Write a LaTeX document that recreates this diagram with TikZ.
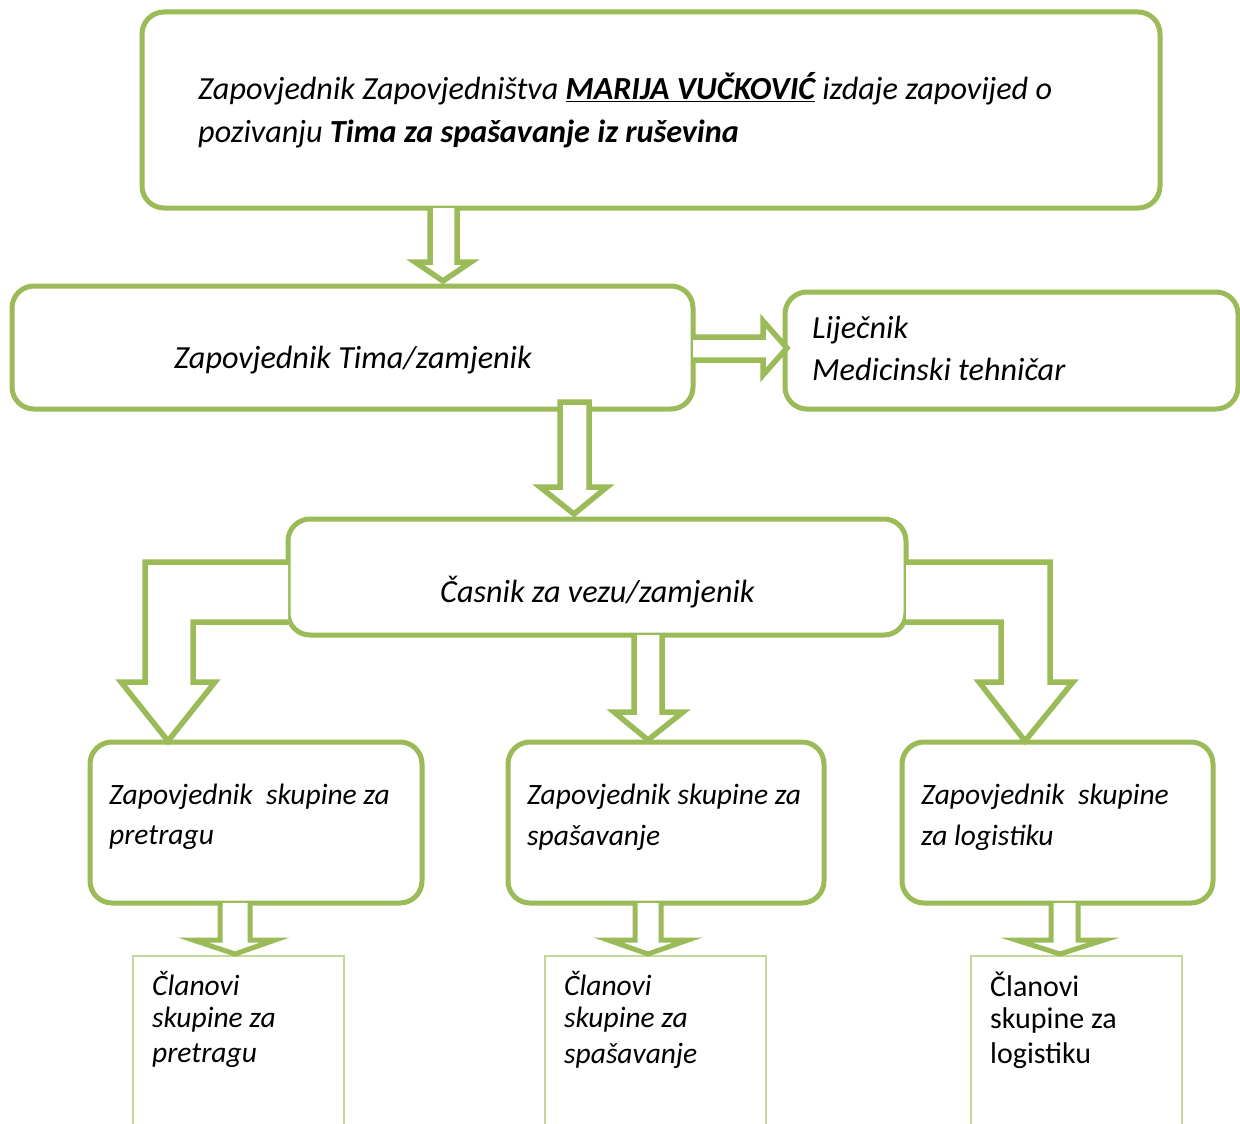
\documentclass[tikz,border=0pt]{standalone}
\usepackage{fontspec}
\setmainfont{Carlito}
\definecolor{grn}{HTML}{9BBB59}
\definecolor{lgrn}{HTML}{C3D69B}
\begin{document}
\begin{tikzpicture}[x=1pt,y=-1pt,
  box/.style={draw=grn, line width=5pt, rounded corners=22pt, fill=white, inner sep=0pt},
  thinbox/.style={draw=lgrn, line width=1.6pt, inner sep=0pt},
  blockarrow/.style={draw=grn, line width=5.5pt, fill=white, line join=miter},
  smallarrow/.style={draw=grn, line width=5pt, fill=white, line join=miter},
  txt/.style={inner sep=0pt, anchor=west, font=\fontsize{32.2}{38}\selectfont\itshape},
  txts/.style={inner sep=0pt, anchor=west, font=\fontsize{29.5}{35}\selectfont\itshape},
  txtup/.style={inner sep=0pt, anchor=west, font=\fontsize{30}{35}\selectfont}]
\useasboundingbox (0,0) rectangle (1240,1124);
\clip (0,0) rectangle (1240,1124);
\fill[white] (0,0) rectangle (1240,1124);

% boxes
\node[box, minimum width=1018pt, minimum height=196pt] (top) at (651,110) {};
\node[box, minimum width=681pt, minimum height=123pt] (team) at (352.5,347.5) {};
\node[box, minimum width=453pt, minimum height=117pt] (med) at (1011.5,350.5) {};
\node[box, minimum width=618pt, minimum height=116pt] (liaison) at (597,577) {};
\node[box, minimum width=332pt, minimum height=161pt] (search) at (256,822.5) {};
\node[box, minimum width=316pt, minimum height=161pt] (rescue) at (666,822.5) {};
\node[box, minimum width=311pt, minimum height=161pt] (logist) at (1057.5,822.5) {};
\node[thinbox, minimum width=211pt, minimum height=200pt, anchor=north west] (msearch) at (132,955) {};
\node[thinbox, minimum width=221pt, minimum height=200pt, anchor=north west] (mrescue) at (544,955) {};
\node[thinbox, minimum width=211pt, minimum height=200pt, anchor=north west] (mlogist) at (970,955) {};

% block arrows
\draw[blockarrow] (430,208) -- (430,262) -- (415,262) -- (443,281) -- (471,262) -- (457,262) -- (457,208);
\draw[blockarrow] (693,337) -- (763,337) -- (763,321) -- (787,348) -- (763,375) -- (763,360) -- (693,360);
\draw[blockarrow] (560,402) -- (560,487) -- (540,487) -- (574,514) -- (607,487) -- (589,487) -- (589,402) -- cycle;
\draw[blockarrow] (288,562) -- (145,562) -- (145,682) -- (121,682) -- (168,741) -- (215,682) -- (193,682) -- (193,622) -- (288,622);
\draw[blockarrow] (906,562) -- (1050,562) -- (1050,682) -- (1073,682) -- (1025,741) -- (979,682) -- (1001,682) -- (1001,622) -- (906,622);
\draw[blockarrow] (634,635) -- (634,712) -- (614,712) -- (648,740) -- (683,712) -- (662,712) -- (662,635);

\draw[smallarrow] (220,903) -- (220,940) -- (193,940) -- (235,954) -- (275,940) -- (250,940) -- (250,903);
\draw[smallarrow] (635,903) -- (635,940) -- (608,940) -- (648,954) -- (688,940) -- (661,940) -- (661,903);
\draw[smallarrow] (1051,903) -- (1051,940) -- (1016,940) -- (1060,954) -- (1104,940) -- (1078,940) -- (1078,903);

% texts
\node[txt] (t1a) at (198,89) {Zapovjednik Zapovjedništva \textbf{\underline{MARIJA VUČKOVIĆ}} izdaje zapovijed o};
\node[txt] (t1b) at (198,134) {pozivanju \textbf{Tima za spašavanje iz ruševina}};
\node[txt] (t2) at (174,360) {Zapovjednik Tima/zamjenik};
\node[txt] (t3a) at (812,330) {Liječnik};
\node[txt] (t3b) at (812,369) {Medicinski tehničar};
\node[txt] (t4) at (440,592) {Časnik za vezu/zamjenik};
\node[txts] (t5a) at (109,797) {Zapovjednik~ skupine za};
\node[txts] (t5b) at (109,838) {pretragu};
\node[txts] (t6a) at (527,797) {Zapovjednik skupine za};
\node[txts] (t6b) at (527,838) {spašavanje};
\node[txts] (t7a) at (921,797) {Zapovjednik~ skupine};
\node[txts] (t7b) at (921,838) {za logistiku};
\node[txts] (t8a) at (152,984) {Članovi};
\node[txts] (t8b) at (152,1020) {skupine za};
\node[txts] (t8c) at (152,1056) {pretragu};
\node[txts] (t9a) at (564,984) {Članovi};
\node[txts] (t9b) at (564,1020) {skupine za};
\node[txts] (t9c) at (564,1056) {spašavanje};
\node[txtup] (t10a) at (990,984) {Članovi};
\node[txtup] (t10b) at (990,1020) {skupine za};
\node[txtup] (t10c) at (990,1056) {logistiku};
\end{tikzpicture}
\end{document}
